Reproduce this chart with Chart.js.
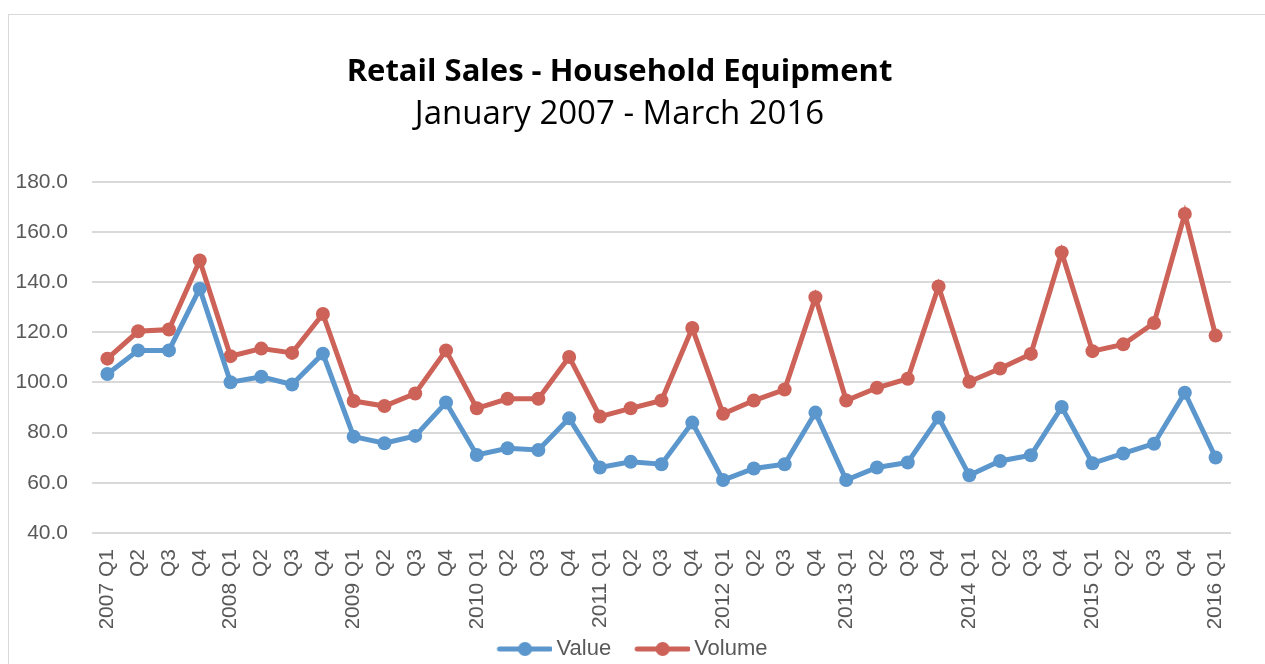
<!DOCTYPE html>
<html>
<head>
<meta charset="utf-8">
<script src="https://cdn.jsdelivr.net/npm/chart.js@4.4.1/dist/chart.umd.min.js"></script>
<style>
  html, body { margin: 0; padding: 0; background: #fff; }
  canvas { display: block; }
</style>
</head>
<body>
<canvas id="salesChart" width="1265" height="664"></canvas>
<script>
const quarters = [
    '2007 Q1', 'Q2', 'Q3', 'Q4',
    '2008 Q1', 'Q2', 'Q3', 'Q4',
    '2009 Q1', 'Q2', 'Q3', 'Q4',
    '2010 Q1', 'Q2', 'Q3', 'Q4',
    '2011 Q1', 'Q2', 'Q3', 'Q4',
    '2012 Q1', 'Q2', 'Q3', 'Q4',
    '2013 Q1', 'Q2', 'Q3', 'Q4',
    '2014 Q1', 'Q2', 'Q3', 'Q4',
    '2015 Q1', 'Q2', 'Q3', 'Q4',
    '2016 Q1'
];

const valueSeries = [
    103.4, 112.8, 112.8, 137.4,
    100.1, 102.3, 99.2, 111.5,
    78.4, 75.8, 78.7, 92.0,
    71.1, 73.8, 73.1, 85.7,
    66.1, 68.4, 67.4, 84.0,
    61.1, 65.7, 67.4, 88.0,
    61.1, 66.1, 68.1, 86.0,
    63.0, 68.7, 71.0, 90.2,
    67.8, 71.7, 75.6, 95.9,
    70.1
];

const volumeSeries = [
    109.5, 120.4, 121.1, 148.6,
    110.5, 113.5, 111.8, 127.3,
    92.6, 90.6, 95.6, 112.8,
    89.7, 93.5, 93.5, 110.2,
    86.4, 89.7, 92.8, 121.7,
    87.5, 92.8, 97.2, 134.0,
    92.8, 97.9, 101.5, 138.3,
    100.3, 105.6, 111.4, 151.8,
    112.5, 115.2, 123.7, 167.2,
    118.7
];

const yTicks = [40, 60, 80, 100, 120, 140, 160, 180];

const BLUE = '#5b96cc';
const RED = '#cc6258';
const TEXT = '#595959';
const GRID = '#d9d9d9';

// line-with-dot swatch for the legend, like Excel draws it.
// the image is wider than the legend box, swatch sits on its right part
function legendSwatch(color) {
    const c = document.createElement('canvas');
    c.width = 76;
    c.height = 16;
    const g = c.getContext('2d');
    g.strokeStyle = color;
    g.lineWidth = 5;
    g.lineCap = 'round';
    g.beginPath();
    g.moveTo(23, 8);
    g.lineTo(74, 8);
    g.stroke();
    g.fillStyle = color;
    g.beginPath();
    g.arc(48.5, 8, 7, 0, Math.PI * 2);
    g.fill();
    return c;
}

const framePlugin = {
    id: 'frame',
    beforeDraw(chart) {
        const c = chart.ctx;
        c.save();
        c.fillStyle = '#fff';
        c.fillRect(0, 0, chart.width, chart.height);
        c.strokeStyle = GRID;
        c.lineWidth = 1;
        c.strokeRect(8.5, 14.5, chart.width + 20, chart.height + 20);
        c.restore();
    },
    afterLayout(chart) {
        // nudge the legend a bit to the right, centred under the plot like Excel
        if (chart.legend) {
            chart.legend.left += 6;
            chart.legend.right += 6;
        }
    }
};

const ctx = document.getElementById('salesChart').getContext('2d');

const salesChart = new Chart(ctx, {
    type: 'line',
    data: {
        labels: quarters,
        datasets: [{
            label: 'Value',
            data: valueSeries,
            borderColor: BLUE,
            backgroundColor: BLUE,
            borderWidth: 5,
            pointRadius: 7,
            pointHoverRadius: 7,
            pointBorderWidth: 0,
            pointStyle: 'circle',
            tension: 0
        }, {
            label: 'Volume',
            data: volumeSeries,
            borderColor: RED,
            backgroundColor: RED,
            borderWidth: 5,
            pointRadius: 7,
            pointHoverRadius: 7,
            pointBorderWidth: 0,
            pointStyle: 'circle',
            tension: 0
        }]
    },
    options: {
        responsive: false,
        animation: false,
        devicePixelRatio: 1,
        layout: {
            padding: { left: 8, right: 34, top: 0, bottom: -6 }
        },
        scales: {
            x: {
                offset: true,
                grid: { display: false },
                border: { display: false },
                ticks: {
                    autoSkip: false,
                    minRotation: 90,
                    maxRotation: 90,
                    padding: 8,
                    color: TEXT,
                    font: { family: 'Liberation Sans', size: 21 }
                },
                afterFit(scale) { scale.height = 95; }
            },
            y: {
                min: 40,
                max: 180,
                afterBuildTicks(scale) {
                    scale.ticks = yTicks.map(v => ({ value: v }));
                },
                grid: { color: GRID, lineWidth: 2, drawTicks: false },
                border: { display: false },
                ticks: {
                    padding: 24,
                    color: TEXT,
                    font: { family: 'Liberation Sans', size: 21 },
                    callback: v => Number(v).toFixed(1)
                },
                afterFit(scale) { scale.width = 84; }
            }
        },
        plugins: {
            title: {
                display: true,
                text: 'Retail Sales - Household Equipment',
                color: '#000',
                font: { family: 'Open Sans', size: 31, weight: 'bold', lineHeight: 1.2 },
                padding: { top: 54, bottom: 0 }
            },
            subtitle: {
                display: true,
                text: 'January 2007 - March 2016',
                color: '#000',
                font: { family: 'Open Sans', size: 33, weight: 'normal', lineHeight: 1.2 },
                padding: { top: 4, bottom: 47 }
            },
            legend: {
                position: 'bottom',
                labels: {
                    usePointStyle: true,
                    pointStyleWidth: 62,
                    padding: 10,
                    color: TEXT,
                    font: { family: 'Liberation Sans', size: 22 },
                    generateLabels(chart) {
                        return chart.data.datasets.map((ds, i) => ({
                            text: ds.label,
                            fillStyle: ds.borderColor,
                            strokeStyle: ds.borderColor,
                            fontColor: TEXT,
                            pointStyle: legendSwatch(ds.borderColor),
                            lineWidth: 0,
                            hidden: false,
                            datasetIndex: i
                        }));
                    }
                }
            },
            tooltip: { enabled: false }
        }
    },
    plugins: [framePlugin]
});
</script>
</body>
</html>
